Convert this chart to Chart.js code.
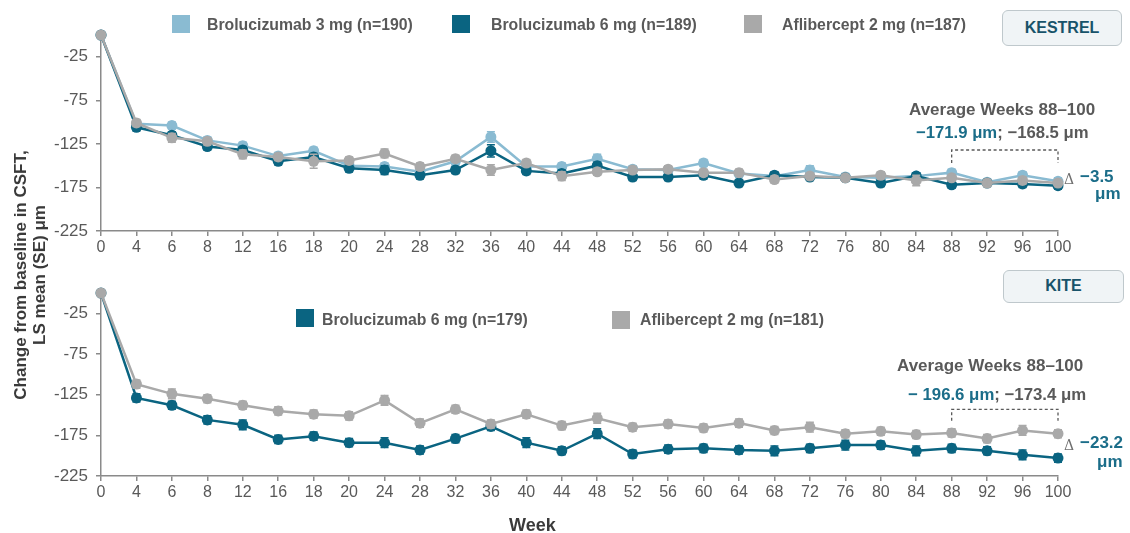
<!DOCTYPE html>
<html>
<head>
<meta charset="utf-8">
<script src="https://cdn.jsdelivr.net/npm/chart.js@4.4.1/dist/chart.umd.min.js"></script>
<style>
  body { margin: 0; background: #fff; font-family: "Liberation Sans", Arial, sans-serif; }
  #wrap { position: relative; width: 1130px; height: 533px; overflow: hidden; }
  canvas { position: absolute; left: 0; }
  .txt { position: absolute; white-space: nowrap; font-weight: bold; color: #595959; line-height: 20px; }
  .sq { position: absolute; width: 18px; height: 18px; }
  .teal { color: #1b6d89; }
  .box { position: absolute; box-sizing: border-box; border: 1.5px solid #bfc8cc; border-radius: 6px;
         background: #f0f4f6; color: #18536a; font-weight: bold; font-size: 16px; text-align: center; }
  .delta { position: absolute; font-family: "DejaVu Serif", "Liberation Serif", serif; color: #6f6f6f; font-size: 14px; line-height: 20px; }
  #ytitle { position: absolute; left: -120px; top: 256px; width: 300px; text-align: center; transform: rotate(-90deg);
            font-weight: bold; font-size: 17px; line-height: 19px; color: #3a3a3a; }
</style>
</head>
<body>
<div id="wrap">
  <canvas id="kestrel" width="1130" height="265" style="top:0"></canvas>
  <canvas id="kite" width="1130" height="268" style="top:265px"></canvas>

  <!-- KESTREL legend -->
  <div class="sq" style="left:172px;top:15px;background:#8abbd2"></div>
  <div class="txt" style="left:207px;top:15px;font-size:15.8px">Brolucizumab 3 mg (n=190)</div>
  <div class="sq" style="left:452px;top:15px;background:#0a6481"></div>
  <div class="txt" style="left:491px;top:15px;font-size:15.8px">Brolucizumab 6 mg (n=189)</div>
  <div class="sq" style="left:744px;top:15px;background:#a9a9a9"></div>
  <div class="txt" style="left:782px;top:15px;font-size:15.8px">Aflibercept 2 mg (n=187)</div>
  <div class="box" style="left:1002px;top:10px;width:120px;height:36px;line-height:33px">KESTREL</div>

  <div class="txt" style="left:909px;top:100px;font-size:17px">Average Weeks 88–100</div>
  <div class="txt" style="left:916px;top:123px;font-size:16.7px"><span class="teal">−171.9 μm</span>; −168.5 μm</div>
  <div class="delta" style="left:1064px;top:169px">Δ</div>
  <div class="txt teal" style="left:1080px;top:167px;font-size:17px">−3.5</div>
  <div class="txt teal" style="left:1095px;top:184px;font-size:17px">μm</div>

  <!-- KITE legend -->
  <div class="sq" style="left:296px;top:309px;background:#0a6481"></div>
  <div class="txt" style="left:322px;top:310px;font-size:15.8px">Brolucizumab 6 mg (n=179)</div>
  <div class="sq" style="left:612px;top:311px;background:#a9a9a9"></div>
  <div class="txt" style="left:640px;top:310px;font-size:15.8px">Aflibercept 2 mg (n=181)</div>
  <div class="box" style="left:1003px;top:270px;width:121px;height:33px;line-height:30px">KITE</div>

  <div class="txt" style="left:897px;top:356px;font-size:17px">Average Weeks 88–100</div>
  <div class="txt" style="left:908px;top:385px;font-size:16.8px"><span class="teal">− 196.6 μm</span>; −173.4 μm</div>
  <div class="delta" style="left:1064px;top:435px">Δ</div>
  <div class="txt teal" style="left:1080px;top:433px;font-size:17px">−23.2</div>
  <div class="txt teal" style="left:1097px;top:452px;font-size:17px">μm</div>

  <div id="ytitle">Change from baseline in CSFT,<br>LS mean (SE) μm</div>
  <div class="txt" style="left:509px;top:515px;font-size:18px;color:#3a3a3a">Week</div>
</div>

<script>
// weeks on the x axis
const weeks = [0, 4, 6, 8, 12, 16, 18, 20, 24, 28, 32, 36, 40, 44, 48, 52, 56, 60, 64, 68, 72, 76, 80, 84, 88, 92, 96, 100];
const yTicks = [-25, -75, -125, -175, -225];

// KESTREL, LS mean change (um)
const kestrelBro3 = [0, -102, -104, -121, -127, -139, -133, -150, -151, -157, -145, -117, -151, -151, -142, -154, -155, -147, -159, -162, -155, -163, -164, -162, -158, -169, -161, -168];
const kestrelBro6 = [0, -106, -115, -128, -132, -145, -140, -153, -155, -161, -155, -133, -156, -159, -150, -163, -163, -161, -170, -161, -163, -164, -170, -162, -172, -170, -171, -173];
const kestrelAfl  = [0, -101, -118, -122, -137, -140, -145, -144, -136, -151, -142, -155, -147, -162, -157, -155, -154, -158, -158, -166, -162, -164, -161, -167, -164, -170, -167, -170];
const kestrelBro3Se = [0, 4, 4, 4, 4, 4, 4, 4, 4, 4, 4, 6, 4, 4, 5, 4, 4, 4, 4, 4, 5, 4, 4, 4, 4, 4, 4, 4];
const kestrelBro6Se = [0, 4, 4, 4, 4, 4, 4, 4, 5, 4, 4, 7, 4, 4, 4, 4, 4, 4, 4, 4, 4, 4, 4, 4, 4, 4, 4, 4];
const kestrelAflSe  = [0, 4, 5, 4, 5, 4, 8, 4, 5, 4, 4, 6, 4, 5, 4, 4, 4, 4, 4, 4, 4, 4, 4, 6, 4, 4, 4, 4];

// KITE, LS mean change (um)
const kiteBro6 = [0, -129, -138, -156, -162, -180, -176, -184, -184, -193, -179, -164, -184, -194, -173, -198, -192, -191, -193, -194, -191, -187, -187, -194, -191, -194, -199, -203];
const kiteAfl  = [0, -112, -124, -130, -138, -145, -149, -151, -132, -160, -143, -161, -149, -163, -154, -165, -161, -166, -160, -169, -165, -173, -170, -174, -172, -179, -169, -173];
const kiteBro6Se = [0, 5, 5, 5, 6, 5, 5, 5, 6, 5, 5, 5, 6, 5, 6, 5, 5, 5, 5, 6, 5, 6, 5, 6, 5, 5, 6, 5];
const kiteAflSe  = [0, 5, 6, 5, 5, 5, 5, 5, 6, 5, 5, 5, 5, 5, 6, 5, 5, 5, 5, 5, 6, 5, 5, 5, 5, 5, 6, 5];

const LIGHT = '#8abbd2';
const DARK = '#0a6481';
const GREY = '#a9a9a9';
const AXIS = '#8a8a8a';
const TICK_TXT = '#595959';

// vertical SE whiskers drawn after each dataset
const errorBars = {
  id: 'errorBars',
  afterDatasetDraw(chart, args) {
    const ds = chart.data.datasets[args.index];
    if (!ds.se) return;
    const y = chart.scales.y;
    const ctx = chart.ctx;
    ctx.save();
    ctx.strokeStyle = ds.borderColor;
    ctx.lineWidth = 1.5;
    args.meta.data.forEach((pt, i) => {
      const e = ds.se[i];
      if (!e) return;
      const top = y.getPixelForValue(ds.data[i] + e);
      const bot = y.getPixelForValue(ds.data[i] - e);
      ctx.beginPath();
      ctx.moveTo(pt.x, top); ctx.lineTo(pt.x, bot);
      ctx.moveTo(pt.x - 4, top); ctx.lineTo(pt.x + 4, top);
      ctx.moveTo(pt.x - 4, bot); ctx.lineTo(pt.x + 4, bot);
      ctx.stroke();
    });
    ctx.restore();
  }
};

// dashed bracket over weeks 88-100
const bracket = {
  id: 'bracket',
  afterDraw(chart, args, opts) {
    if (!opts.top) return;
    const x = chart.scales.x, y = chart.scales.y, ctx = chart.ctx;
    const x1 = x.getPixelForValue(weeks.indexOf(88));
    const x2 = x.getPixelForValue(weeks.indexOf(100));
    const yt = y.getPixelForValue(opts.top);
    const yb = y.getPixelForValue(opts.bottom);
    ctx.save();
    ctx.strokeStyle = '#5a5a5a';
    ctx.lineWidth = 1.3;
    ctx.setLineDash([3, 2.5]);
    ctx.beginPath();
    ctx.moveTo(x1, yb); ctx.lineTo(x1, yt); ctx.lineTo(x2, yt); ctx.lineTo(x2, yb);
    ctx.stroke();
    ctx.restore();
  }
};

function series(label, data, se, color, order) {
  return {
    label: label,
    data: data,
    se: se,
    borderColor: color,
    backgroundColor: color,
    borderWidth: 2.5,
    pointRadius: 5.5,
    pointBorderWidth: 0,
    tension: 0,
    clip: false,
    order: order,
  };
}

function makeChart(id, datasets, top, xAxisHeight, brk) {
  return new Chart(document.getElementById(id), {
    type: 'line',
    data: { labels: weeks.map(String), datasets: datasets },
    plugins: [errorBars, bracket],
    options: {
      responsive: false,
      animation: false,
      events: [],
      layout: { padding: { top: top, left: 0, right: 72, bottom: 0 } },
      plugins: {
        legend: { display: false },
        tooltip: { enabled: false },
        bracket: brk,
      },
      scales: {
        x: {
          offset: false,
          grid: { drawOnChartArea: false, drawTicks: true, tickLength: 5, color: AXIS, lineWidth: 1.5 },
          border: { color: AXIS, width: 1.5 },
          ticks: { color: TICK_TXT, font: { size: 16, family: '"Liberation Sans", Arial' }, padding: 2, maxRotation: 0, autoSkip: false },
          afterFit: (s) => { s.height = xAxisHeight; },
        },
        y: {
          min: -225,
          max: 0,
          grid: { drawOnChartArea: false, drawTicks: true, tickLength: 5, color: AXIS, lineWidth: 1.5 },
          border: { color: AXIS, width: 1.5 },
          ticks: { color: TICK_TXT, font: { size: 17, family: '"Liberation Sans", Arial' }, padding: 8,
                   callback: (v) => String(v) },
          afterBuildTicks: (s) => { s.ticks = yTicks.map(v => ({ value: v })); },
          afterFit: (s) => { s.width = 101; },
        },
      },
    },
  });
}

makeChart('kestrel', [
  series('Brolucizumab 3 mg (n=190)', kestrelBro3, kestrelBro3Se, LIGHT, 3),
  series('Brolucizumab 6 mg (n=189)', kestrelBro6, kestrelBro6Se, DARK, 2),
  series('Aflibercept 2 mg (n=187)', kestrelAfl, kestrelAflSe, GREY, 1),
], 35, 34, { top: -132, bottom: -147 });

makeChart('kite', [
  series('Brolucizumab 6 mg (n=179)', kiteBro6, kiteBro6Se, DARK, 2),
  series('Aflibercept 2 mg (n=181)', kiteAfl, kiteAflSe, GREY, 1),
], 28, 57, { top: -143, bottom: -157 });
</script>
</body>
</html>
